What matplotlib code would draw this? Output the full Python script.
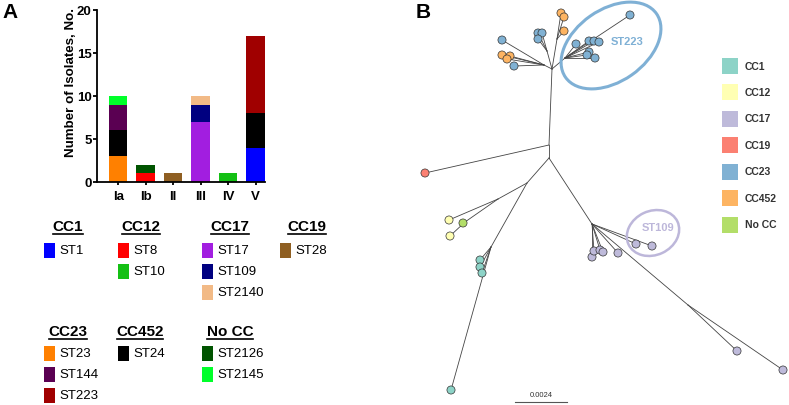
import matplotlib
matplotlib.use("Agg")
import matplotlib.pyplot as plt
from matplotlib.patches import Ellipse, Rectangle

plt.rcParams['font.family'] = ['Liberation Sans', 'DejaVu Sans']

# ---------------- Panel A data ----------------
serotypes = ['Ia', 'Ib', 'II', 'III', 'IV', 'V']
stack_order = ['ST1', 'ST23', 'ST8', 'ST17', 'ST28', 'ST10', 'ST24', 'ST144',
               'ST109', 'ST2126', 'ST223', 'ST2140', 'ST2145']
st_counts = {
    'ST1':    [0, 0, 0, 0, 0, 4],
    'ST23':   [3, 0, 0, 0, 0, 0],
    'ST8':    [0, 1, 0, 0, 0, 0],
    'ST17':   [0, 0, 0, 7, 0, 0],
    'ST28':   [0, 0, 1, 0, 0, 0],
    'ST10':   [0, 0, 0, 0, 1, 0],
    'ST24':   [3, 0, 0, 0, 0, 4],
    'ST144':  [3, 0, 0, 0, 0, 0],
    'ST109':  [0, 0, 0, 2, 0, 0],
    'ST2126': [0, 1, 0, 0, 0, 0],
    'ST223':  [0, 0, 0, 0, 0, 9],
    'ST2140': [0, 0, 0, 1, 0, 0],
    'ST2145': [1, 0, 0, 0, 0, 0],
}
st_colors = {
    'ST1': '#0000ff', 'ST8': '#ff0000', 'ST10': '#14c014', 'ST17': '#a21ee0',
    'ST109': '#000080', 'ST2140': '#f2ba86', 'ST28': '#8f5f22', 'ST23': '#ff8000',
    'ST144': '#5a0052', 'ST223': '#a00000', 'ST24': '#000000', 'ST2126': '#005400',
    'ST2145': '#00ff2a',
}
legend_groups = [
    ('CC1', ['ST1']),
    ('CC12', ['ST8', 'ST10']),
    ('CC17', ['ST17', 'ST109', 'ST2140']),
    ('CC19', ['ST28']),
    ('CC23', ['ST23', 'ST144', 'ST223']),
    ('CC452', ['ST24']),
    ('No CC', ['ST2126', 'ST2145']),
]

# ---------------- Panel B data (tree layout) ----------------
cc_names = ['CC1', 'CC12', 'CC17', 'CC19', 'CC23', 'CC452', 'No CC']
cc_colors = ['#8dd3c7', '#ffffb3', '#bebada', '#fb8072', '#80b1d3', '#fdb462', '#b3de69']
inner_nodes = {
    'U': (552, 70), 'Ua': (544, 66), 'Ub': (547, 52), 'Uc': (557, 40), 'Ud': (565, 59),
    'T1': (549, 146), 'T2': (549, 159), 'L1': (527, 184), 'A': (498, 200),
    'B': (465, 223), 'C1': (491, 248), 'R1': (592, 225), 'R2': (688, 306),
}
inner_edges = [('U', 'T1'), ('T1', 'T2'), ('T2', 'L1'), ('L1', 'A'), ('A', 'B'),
               ('L1', 'C1'), ('T2', 'R1'), ('R1', 'R2'),
               ('U', 'Ua'), ('U', 'Ub'), ('U', 'Uc'), ('U', 'Ud')]
tip_parent = ['T1', 'A', 'B', 'B', 'C1', 'C1', 'C1', 'C1',
              'R1', 'R1', 'R1', 'R1', 'R1', 'R1', 'R1', 'R2', 'R2',
              'Ua', 'Ua', 'Ua', 'Ua', 'Ua', 'Ub', 'Ub', 'Ub', 'Uc', 'Uc', 'Uc',
              'Ud', 'Ud', 'Ud', 'Ud', 'Ud', 'Ud', 'Ud', 'Ud']
tip_x = [425, 449, 450, 463, 480, 480, 482, 451,
         592, 594, 600, 603, 618, 636, 652, 737, 783,
         502, 502, 510, 507, 514, 538, 542, 538, 561, 564, 564,
         576, 589, 594, 599, 589, 587, 595, 630]
tip_y = [174, 221, 237, 224, 261, 268, 274, 391,
         258, 252, 251, 253, 254, 245, 247, 352, 371,
         41, 56, 57, 60, 67, 34, 34, 40, 14, 18, 32,
         45, 42, 42, 43, 53, 56, 59, 16]
tip_cc = ['CC19', 'CC12', 'CC12', 'No CC', 'CC1', 'CC1', 'CC1', 'CC1',
          'CC17', 'CC17', 'CC17', 'CC17', 'CC17', 'CC17', 'CC17', 'CC17', 'CC17',
          'CC23', 'CC452', 'CC452', 'CC452', 'CC23', 'CC23', 'CC23', 'CC23',
          'CC452', 'CC452', 'CC452',
          'CC23', 'CC23', 'CC23', 'CC23', 'CC23', 'CC23', 'CC23', 'CC23']
scale_label = '0.0024'

W, H = 789, 406
fig = plt.figure(figsize=(W / 100, H / 100), dpi=100)

# overlay axes in pixel coordinates
ov = fig.add_axes([0, 0, 1, 1])
ov.set_xlim(0, W)
ov.set_ylim(H, 0)
ov.axis('off')

# ---------------- Panel A bar chart ----------------
ax = fig.add_axes([97 / W, (H - 183) / H, 168 / W, 172 / H])
xs = list(range(len(serotypes)))
bottom = [0] * len(serotypes)
for st in stack_order:
    vals = st_counts[st]
    ax.bar(xs, vals, width=0.67, bottom=bottom, color=st_colors[st], linewidth=0)
    bottom = [b + v for b, v in zip(bottom, vals)]
ax.set_xlim(-0.77, 5.34)
ax.set_ylim(0, 20)
ax.set_yticks([0, 5, 10, 15, 20])
ax.set_xticks(xs)
ax.set_xticklabels(serotypes, fontweight='bold', fontsize=9.5)
for lbl in ax.get_yticklabels():
    lbl.set_fontweight('bold')
    lbl.set_fontsize(9.5)
ax.spines['top'].set_visible(False)
ax.spines['right'].set_visible(False)
for s in ['left', 'bottom']:
    ax.spines[s].set_linewidth(1.3)
ax.tick_params(axis='y', length=3, width=1.3, pad=0.8)
ax.tick_params(axis='x', length=2.5, width=1.3, pad=3)
ax.set_ylabel('Number of Isolates, No.', fontweight='bold', fontsize=9.6)
ax.yaxis.set_label_coords(-0.119, 0.587)
ax.patch.set_alpha(0)

fig.text(10 / W, 1 - 13 / H, 'A', fontsize=15, fontweight='bold', ha='center', va='center')
fig.text(423 / W, 1 - 13 / H, 'B', fontsize=15, fontweight='bold', ha='center', va='center')

# ---------------- Panel A legend ----------------
header_pos = [(68, 227), (141, 227), (230, 227), (307, 227), (68, 332), (140, 332), (230, 332)]
square_x = [44, 118, 202, 280, 44, 118, 202]
row_y0 = [251, 251, 251, 251, 354, 354, 354]
row_step = 21
headers = []
for (name, sts), (hx, hy), sx, ry in zip(legend_groups, header_pos, square_x, row_y0):
    t = ov.text(hx, hy, name, fontsize=11, fontweight='bold', ha='center', va='center')
    headers.append(t)
    for i, st in enumerate(sts):
        cy = ry + i * row_step
        ov.add_patch(Rectangle((sx, cy - 7.5), 11.5, 15, facecolor=st_colors[st], edgecolor='none'))
        ov.text(sx + 15.5, cy, st, fontsize=9.5, ha='left', va='center')

# ---------------- Panel B tree ----------------
edge_kw = dict(color='#444444', lw=0.6, zorder=2)
for a, b in inner_edges:
    (x0, y0), (x1, y1) = inner_nodes[a], inner_nodes[b]
    ov.plot([x0, x1], [y0, y1], **edge_kw)
for p, x, y in zip(tip_parent, tip_x, tip_y):
    px, py = inner_nodes[p]
    ov.plot([px, x], [py, y], **edge_kw)
cmap = dict(zip(cc_names, cc_colors))
ov.scatter(tip_x, tip_y, s=34, c=[cmap[c] for c in tip_cc], edgecolors='#333333',
           linewidths=0.5, zorder=3)

# highlighted clades
ov.add_patch(Ellipse((611, 46.5), 111, 72, angle=-35, fill=False, edgecolor='#7fb0d5',
                     lw=2.2, zorder=4))
ov.text(627, 42, 'ST223', color='#7fb0d5', fontsize=8, fontweight='bold',
        ha='center', va='center', zorder=4)
ov.add_patch(Ellipse((653, 234), 54, 44, angle=-25, fill=False, edgecolor='#bdb7da',
                     lw=1.8, zorder=4))
ov.text(658, 228, 'ST109', color='#bdb7da', fontsize=8, fontweight='bold',
        ha='center', va='center', zorder=4)

# scale bar
ov.plot([515, 567], [403, 403], color='#555555', lw=0.8)
ov.text(541, 399.5, scale_label, fontsize=5.5, ha='center', va='bottom', color='#333333')

# tree legend
for i, (name, col) in enumerate(zip(cc_names, cc_colors)):
    cy = 66.5 + i * 26.5
    ov.add_patch(Rectangle((722, cy - 8), 16, 16, facecolor=col, edgecolor='none'))
    ov.text(745, cy, name, fontsize=7.5, fontweight='bold', ha='left', va='center', color='#333333')

# underline headers
fig.canvas.draw()
r = fig.canvas.get_renderer()
for t in headers:
    bb = t.get_window_extent(renderer=r)
    yl = H - bb.y0 + 0.5
    ov.plot([bb.x0 + 0.5, bb.x1 - 0.5], [yl, yl], color='black', lw=1.2)

fig.savefig('out.png', dpi=100)
